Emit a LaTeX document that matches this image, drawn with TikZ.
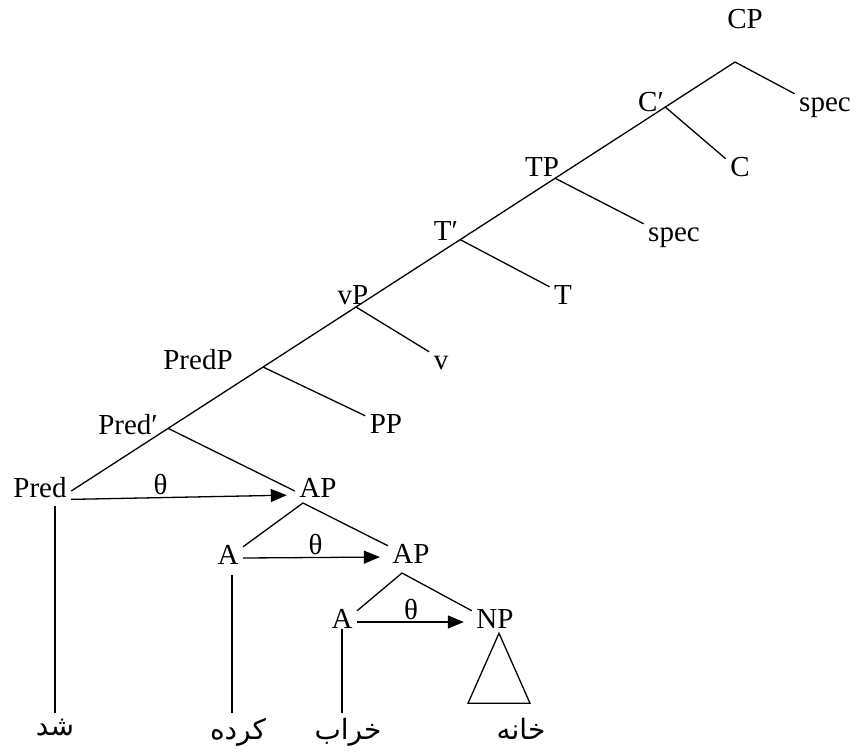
\documentclass[tikz,border=0pt]{standalone}
\usepackage{fontspec}
\setmainfont{Liberation Serif}
\newfontfamily\arabicfont[Script=Arabic]{DejaVu Sans}
\TeXXeTstate=1
\usetikzlibrary{arrows.meta,calc}

\begin{document}
\begin{tikzpicture}[x=0.5pt,y=-0.5pt,line width=0.65pt,
  lab/.style={inner sep=2pt,text height=0.66em,text depth=0pt,font=\fontsize{14.5}{17}\selectfont},
  word/.style={inner sep=2.5pt,anchor=north,font=\arabicfont\fontsize{14}{16}\selectfont},
  thta/.style={-{Triangle[length=8pt,width=6.5pt]},shorten >=4pt},
  thlab/.style={above,inner sep=1pt,font=\fontsize{14.5}{17}\selectfont}]
\useasboundingbox (0,0) rectangle (858,751);

% labels of the tree
\node[lab] (cp) at (745,22) {CP};
\node[lab] (spec1) at (825,105) {spec};
\node[lab] (cbar) at (651,105) {C′};
\node[lab] (c) at (740,170) {C};
\node[lab] (tp) at (542,170) {TP};
\node[lab] (spec2) at (674,235) {spec};
\node[lab] (tbar) at (446,234) {T′};
\node[lab] (t) at (563,298) {T};
\node[lab] (vp) at (353,298) {vP};
\node[lab] (v) at (441,363) {v};
\node[lab] (predp) at (198,363) {PredP};
\node[lab] (pp) at (386,427) {PP};
\node[lab] (predbar) at (128,428) {Pred′};
\node[lab] (pred) at (40,491) {Pred};
\node[lab] (ap1) at (318,491) {AP};
\node[lab] (a1) at (228,558) {A};
\node[lab] (ap2) at (411,557) {AP};
\node[lab] (a2) at (342,622) {A};
\node[lab] (np) at (495,622) {NP};

% the Persian words
\node[word] (shd) at (55,713) {\arabicfont\beginR شد\endR};
\node[word] (kardeh) at (238,713) {\arabicfont\beginR کرده\endR};
\node[word] (kharab) at (348,713) {\arabicfont\beginR خراب\endR};
\node[word] (khaneh) at (521,713) {\arabicfont\beginR خانه\endR};

% the spine, with its branch points
\coordinate (cp-b) at (735,62);
\draw (cp-b) -- (pred.east);
\coordinate (cbar-b) at ($(cp-b)!0.105!(pred.east)$);
\coordinate (tp-b) at ($(cp-b)!0.271!(pred.east)$);
\coordinate (tbar-b) at ($(cp-b)!0.414!(pred.east)$);
\coordinate (vp-b) at ($(cp-b)!0.571!(pred.east)$);
\coordinate (predp-b) at ($(cp-b)!0.711!(pred.east)$);
\coordinate (predbar-b) at ($(cp-b)!0.854!(pred.east)$);

\draw (cp-b) -- (spec1.north west);
\draw (cbar-b) -- (c.north west);
\draw (tp-b) -- (spec2.north west);
\draw (tbar-b) -- (t.north west);
\draw (vp-b) -- (v.north west);
\draw (predp-b) -- (pp.north west);
\draw (predbar-b) -- (ap1.west);

% AP shells
\coordinate (ap1-b) at (303,503);
\draw (a1.north east) -- (ap1-b) -- (ap2.north west);
\coordinate (ap2-b) at (402,573);
\draw (a2.north east) -- (ap2-b) -- (np.north west);

% theta-role assignment
\draw[thta] (pred.-15) -- node[thlab,pos=0.4] (th1) {θ} ([yshift=-2pt]ap1.west);
\draw[thta] (a1.east) -- node[thlab] (th2) {θ} (ap2.west);
\draw[thta] (a2.east) -- node[thlab,pos=0.47] (th3) {θ} (np.west);

% NP triangle
\draw ([xshift=2pt]np.south) -- ++(-31,70) -- ++(62,0) -- cycle;

% lexical items
\draw ([yshift=-2pt]shd.north |- pred.south) -- (shd.north);
\draw ([xshift=2pt,yshift=-3pt]a1.south) -- ([xshift=2pt]a1.south |- kardeh.north);
\draw (a2.base) -- (a2.base |- kharab.north);
\end{tikzpicture}
\end{document}
